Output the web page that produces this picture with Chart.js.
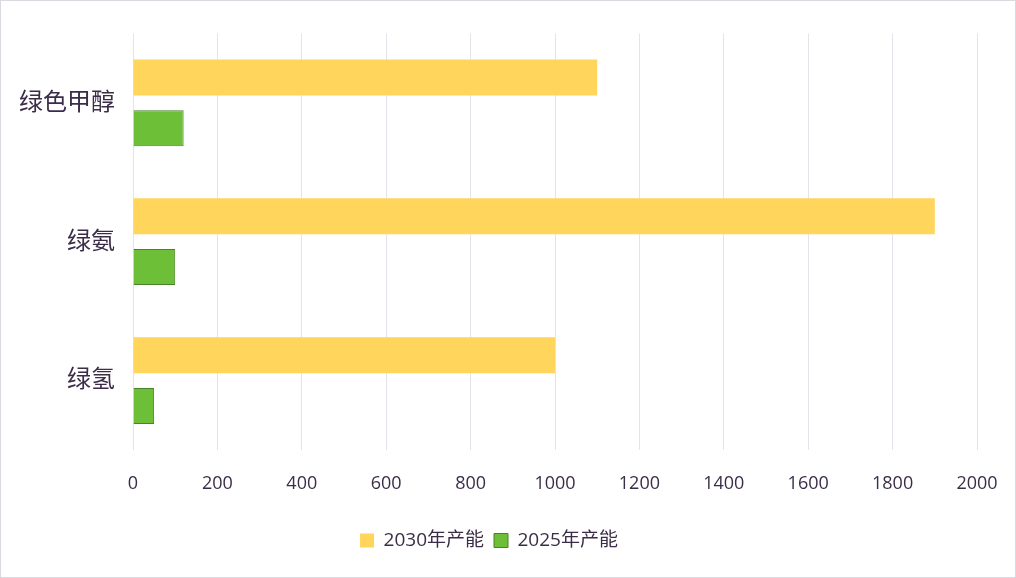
<!DOCTYPE html>
<html>
<head>
<meta charset="utf-8">
<script src="https://cdn.jsdelivr.net/npm/chart.js@4"></script>
<style>
    html, body { margin: 0; padding: 0; background: #fff; }
    #wrap { position: relative; width: 1014px; height: 576px; border: 1px solid #d9d9e0; }
</style>
</head>
<body>
<div id="wrap"><canvas id="chart"></canvas></div>
<script>
const categories = ["绿色甲醇", "绿氨", "绿氢"];
const cap2030 = [1100, 1900, 1000];
const cap2025 = [120, 100, 50];
const xTicks = [0, 200, 400, 600, 800, 1000, 1200, 1400, 1600, 1800, 2000];

const textColor = '#3b2d48';
const fontFamily = '"Open Sans", "Noto Sans CJK SC", sans-serif';

new Chart(document.getElementById("chart"), {
    type: 'bar',
    data: {
        labels: categories,
        datasets: [{
            label: '2030年产能',
            data: cap2030,
            backgroundColor: '#ffd55c',
            borderColor: '#ffd55c',
            borderWidth: 0
        }, {
            label: '2025年产能',
            data: cap2025,
            backgroundColor: '#6cbf36',
            borderColor: '#4a8229',
            borderWidth: 1
        }]
    },
    options: {
        indexAxis: 'y',
        responsive: true,
        maintainAspectRatio: false,
        animation: false,
        datasets: {
            bar: { categoryPercentage: 0.73, barPercentage: 0.71 }
        },
        layout: { padding: { left: 0, right: 38, top: 31, bottom: 17 } },
        scales: {
            x: {
                min: 0,
                max: 2000,
                afterBuildTicks: s => { s.ticks = xTicks.map(v => ({ value: v })); },
                afterFit: s => { s.height = 71; s.paddingRight = 0; s.paddingLeft = 0; },
                border: { display: false },
                grid: { color: '#e3e3ea', lineWidth: 1, drawTicks: false },
                ticks: {
                    color: textColor,
                    padding: 23,
                    font: { family: fontFamily, size: 18 },
                    callback: v => String(v)
                }
            },
            y: {
                afterFit: s => { s.width = 132; },
                border: { display: false },
                grid: { display: false, drawTicks: false },
                ticks: { color: textColor, padding: 18, font: { family: fontFamily, size: 24 } }
            }
        },
        plugins: {
            legend: {
                position: 'bottom',
                labels: {
                    color: textColor,
                    boxWidth: 14,
                    boxHeight: 14,
                    padding: 10,
                    font: { family: fontFamily, size: 19 }
                }
            },
            tooltip: { enabled: false }
        }
    }
});
</script>
</body>
</html>
